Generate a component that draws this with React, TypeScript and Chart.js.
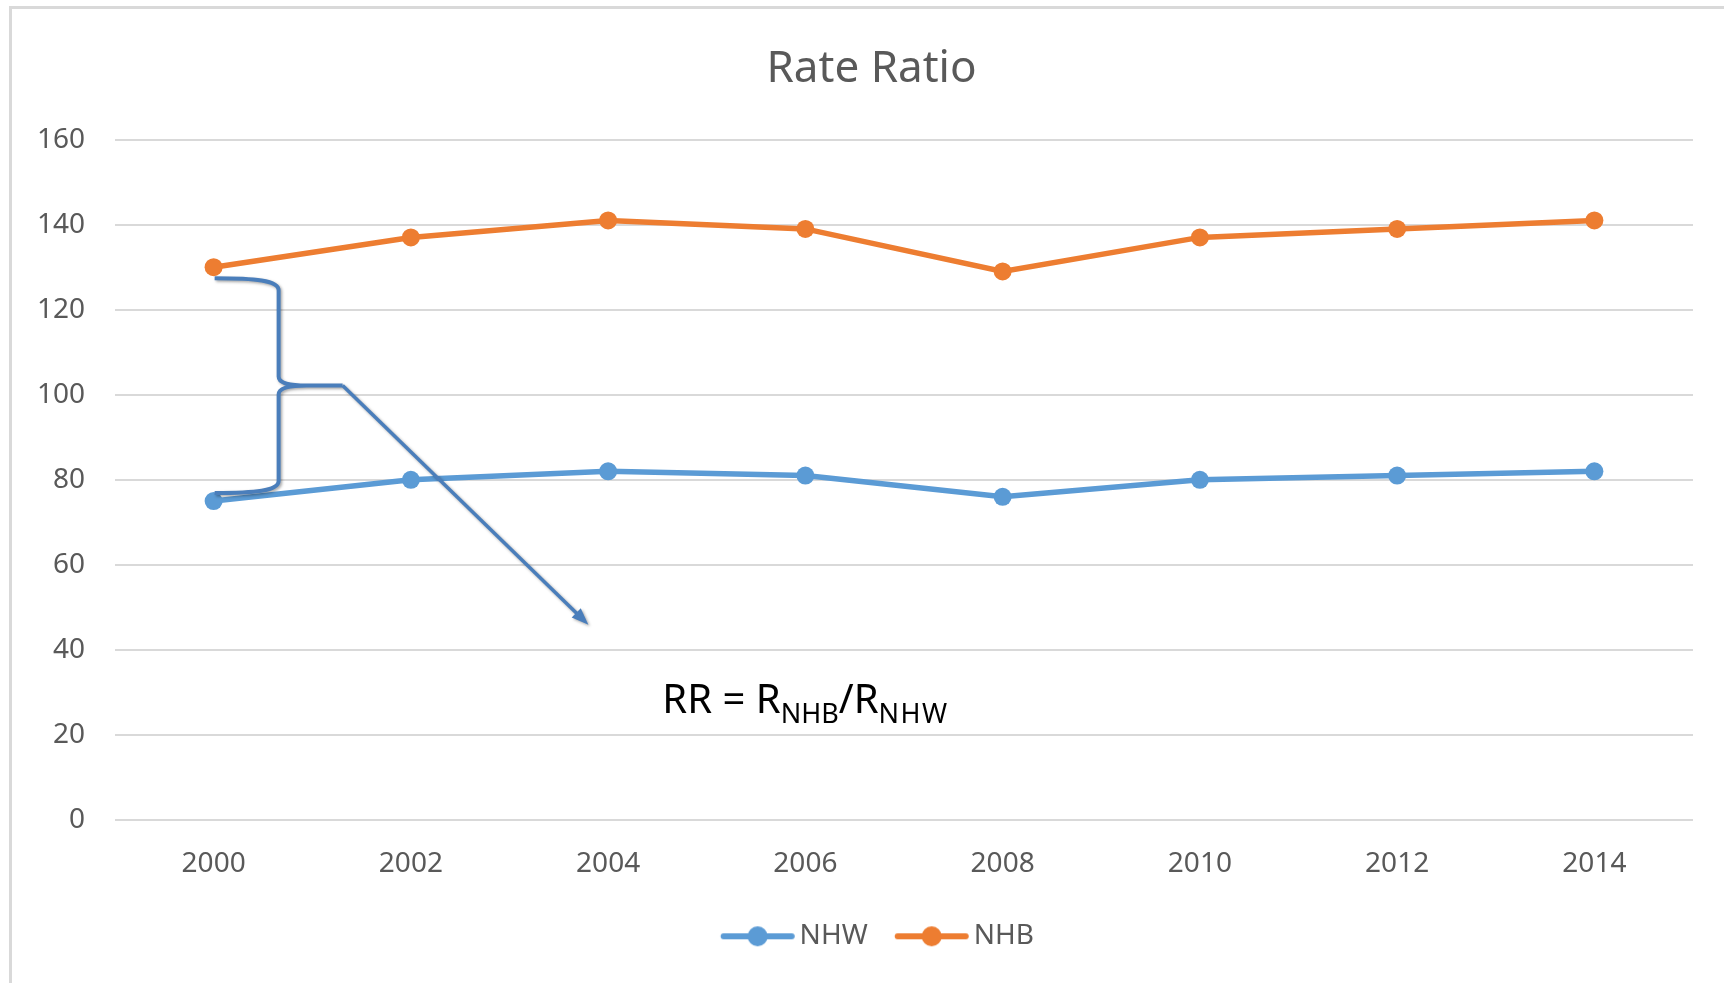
import React, { useEffect, useRef } from 'react';
import { Chart, registerables } from 'chart.js';

Chart.register(...registerables);

// ---- data ----
const years = ['2000', '2002', '2004', '2006', '2008', '2010', '2012', '2014'];
const nhw = [75, 80, 82, 81, 76, 80, 81, 82];
const nhb = [130, 137, 141, 139, 129, 137, 139, 141];
const seriesLabels = ['NHW', 'NHB'];
const yMin = 0;
const yMax = 160;
const yStep = 20;
const titleText = 'Rate Ratio';

// ---- styles ----
const FONT = '"Noto Sans", "Open Sans", sans-serif';
const TEXT = '#595959';
const BLUE = '#5B9BD5';
const ORANGE = '#ED7D31';
const SHAPE = '#4a7ebb';

function makeLegendMarker(color: string): HTMLCanvasElement {
  const c = document.createElement('canvas');
  c.width = 95;
  c.height = 24;
  const ctx = c.getContext('2d')!;
  ctx.strokeStyle = color;
  ctx.fillStyle = color;
  ctx.lineWidth = 6;
  ctx.lineCap = 'round';
  ctx.beginPath();
  ctx.moveTo(23.75, 12);
  ctx.lineTo(91.75, 12);
  ctx.stroke();
  ctx.beginPath();
  ctx.arc(57.75, 12, 10, 0, Math.PI * 2);
  ctx.fill();
  return c;
}

// shifts the title and legend boxes slightly right so they centre like the original
const centerShiftPlugin = {
  id: 'centerShift',
  afterLayout(chart: any) {
    const d = 7;
    for (const b of [chart.titleBlock, chart.legend]) {
      if (b) {
        b.left += d;
        b.right += d;
      }
    }
  },
};

const annotationPlugin = {
  id: 'rrAnnotation',
  afterDatasetsDraw(chart: any) {
    const { ctx, scales } = chart;
    const xs = scales.x;
    const ys = scales.y;
    const x0 = xs.getPixelForValue(0) + 1;
    const top = ys.getPixelForValue(nhb[0]) + 11;
    const bottom = ys.getPixelForValue(nhw[0]) - 8;
    const mid = (top + bottom) / 2;
    const xv = x0 + 64;
    const tip = xv + 28;
    const arm = x0 + 128;

    ctx.save();
    ctx.strokeStyle = SHAPE;
    ctx.fillStyle = SHAPE;
    ctx.lineWidth = 4;
    ctx.lineJoin = 'round';
    ctx.shadowColor = 'rgba(0,0,0,0.35)';
    ctx.shadowBlur = 3;
    ctx.shadowOffsetX = 1.5;
    ctx.shadowOffsetY = 1.5;

    // curly brace
    ctx.beginPath();
    ctx.moveTo(x0, top);
    ctx.bezierCurveTo(x0 + 40, top, xv, top + 2, xv, top + 12);
    ctx.lineTo(xv, mid - 9);
    ctx.bezierCurveTo(xv, mid - 3, xv + 8, mid, tip, mid);
    ctx.lineTo(arm, mid);
    ctx.moveTo(tip, mid);
    ctx.bezierCurveTo(xv + 8, mid, xv, mid + 3, xv, mid + 9);
    ctx.lineTo(xv, bottom - 12);
    ctx.bezierCurveTo(xv, bottom - 2, x0 + 40, bottom, x0, bottom);
    ctx.stroke();

    // arrow
    const ax = xs.getPixelForValue(1.9);
    const ay = ys.getPixelForValue(45.9);
    const ang = Math.atan2(ay - mid, ax - arm);
    const headLen = 17;
    const headW = 6.5;
    const bx = ax - headLen * Math.cos(ang);
    const by = ay - headLen * Math.sin(ang);
    ctx.lineWidth = 3.5;
    ctx.beginPath();
    ctx.moveTo(arm, mid);
    ctx.lineTo(bx + 2 * Math.cos(ang), by + 2 * Math.sin(ang));
    ctx.stroke();
    ctx.beginPath();
    ctx.moveTo(ax, ay);
    ctx.lineTo(bx + headW * Math.sin(ang), by - headW * Math.cos(ang));
    ctx.lineTo(bx - headW * Math.sin(ang), by + headW * Math.cos(ang));
    ctx.closePath();
    ctx.fill();
    ctx.restore();

    // formula text
    ctx.save();
    ctx.fillStyle = '#000000';
    ctx.textBaseline = 'alphabetic';
    ctx.textAlign = 'left';
    let tx = xs.getPixelForValue(2.275);
    const base = ys.getPixelForValue(25.1);
    const big = `40px ${FONT}`;
    const small = `27px ${FONT}`;
    const parts: [string, string, number, string][] = [
      ['RR = R', big, 0, '0px'],
      ['NHB', small, 10, '0px'],
      ['/', big, 0, '0px'],
      ['R', big, 0, '0px'],
      ['NHW', small, 10, '1.5px'],
    ];
    for (const [t, f, dy, ls] of parts) {
      ctx.font = f;
      (ctx as any).letterSpacing = ls;
      ctx.fillText(t, tx, base + dy);
      tx += ctx.measureText(t).width;
    }
    ctx.restore();
  },
};

export default function App() {
  const ref = useRef<HTMLCanvasElement | null>(null);

  useEffect(() => {
    if (!ref.current) return;
    const markers = [makeLegendMarker(BLUE), makeLegendMarker(ORANGE)];
    const chart = new Chart(ref.current, {
      type: 'line',
      data: {
        labels: years,
        datasets: [
          {
            label: seriesLabels[0],
            data: nhw,
            borderColor: BLUE,
            backgroundColor: BLUE,
            pointBackgroundColor: BLUE,
            pointBorderColor: BLUE,
            borderWidth: 5.5,
            pointRadius: 9,
            pointBorderWidth: 0,
            tension: 0,
          },
          {
            label: seriesLabels[1],
            data: nhb,
            borderColor: ORANGE,
            backgroundColor: ORANGE,
            pointBackgroundColor: ORANGE,
            pointBorderColor: ORANGE,
            borderWidth: 5.5,
            pointRadius: 9,
            pointBorderWidth: 0,
            tension: 0,
          },
        ],
      },
      options: {
        responsive: false,
        animation: false,
        devicePixelRatio: 1,
        layout: { padding: { left: 36, right: 31, top: 0, bottom: 22.7 } },
        plugins: {
          title: {
            display: true,
            text: titleText,
            color: TEXT,
            font: { family: FONT, size: 44, weight: 'normal' },
            padding: { top: 43.3, bottom: 43.5 },
          },
          legend: {
            position: 'bottom',
            labels: {
              usePointStyle: true,
              pointStyleWidth: 76.5,
              boxHeight: 28,
              padding: 15.5,
              color: TEXT,
              font: { family: FONT, size: 28 },
              generateLabels: (ch: any) =>
                ch.data.datasets.map((ds: any, i: number) => ({
                  text: ds.label,
                  pointStyle: markers[i],
                  fillStyle: ds.borderColor,
                  strokeStyle: ds.borderColor,
                  fontColor: TEXT,
                  lineWidth: 0,
                  hidden: false,
                  datasetIndex: i,
                })),
            },
          },
          tooltip: { enabled: false },
        },
        scales: {
          x: {
            offset: true,
            grid: { display: false, drawTicks: false },
            border: { display: false },
            ticks: { padding: 27, color: TEXT, font: { family: FONT, size: 28 } },
            afterFit: (s: any) => {
              s.height = 86.8;
            },
          },
          y: {
            min: yMin,
            max: yMax,
            grid: { color: '#d9d9d9', lineWidth: 2, drawTicks: false },
            border: { display: false },
            ticks: { stepSize: yStep, padding: 30, color: TEXT, font: { family: FONT, size: 28 } },
            afterFit: (s: any) => {
              s.width = 79;
            },
          },
        },
      },
      plugins: [centerShiftPlugin, annotationPlugin],
    });
    return () => chart.destroy();
  }, []);

  return (
    <div
      style={{
        position: 'fixed',
        left: 0,
        top: 0,
        width: 1724,
        height: 983,
        overflow: 'hidden',
        background: '#ffffff',
      }}
    >
      <div
        style={{
          position: 'absolute',
          left: 9,
          top: 6,
          width: 1800,
          height: 1100,
          borderTop: '3px solid #d9d9d9',
          borderLeft: '3px solid #d9d9d9',
          boxSizing: 'border-box',
        }}
      />
      <canvas
        ref={ref}
        width={1724}
        height={983}
        style={{ position: 'absolute', left: 0, top: 0, width: 1724, height: 983 }}
      />
    </div>
  );
}
